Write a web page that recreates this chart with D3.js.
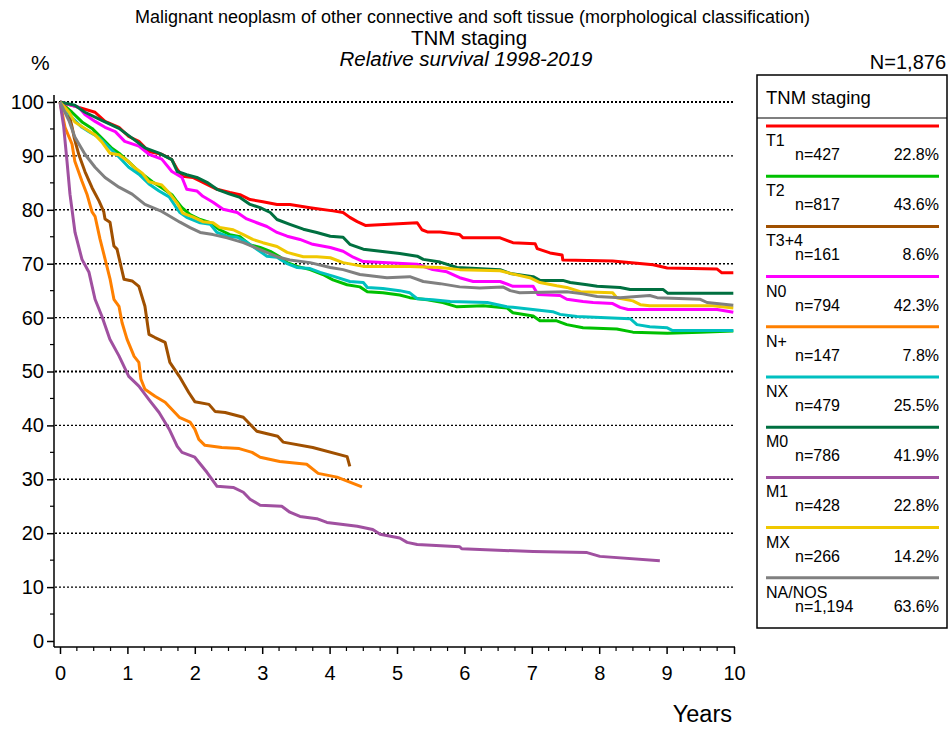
<!DOCTYPE html>
<html><head><meta charset="utf-8">
<script src="https://cdn.jsdelivr.net/npm/d3@7"></script>
<style>body{margin:0;background:#fff}</style>
</head><body><svg id="c" width="949" height="729"></svg>
<script>
const categories = ["T1","T2","T3+4","N0","N+","NX","M0","M1","MX","NA/NOS"];
const counts = ["n=427","n=817","n=161","n=794","n=147","n=479","n=786","n=428","n=266","n=1,194"];
const shares = ["22.8%","43.6%","8.6%","42.3%","7.8%","25.5%","41.9%","22.8%","14.2%","63.6%"];
const colors = ["#ff0000","#00c000","#a05000","#ff00ff","#ff8000","#00c0c0","#007040","#a050a0","#f0c800","#808080"];
const xTicks = [0,1,2,3,4,5,6,7,8,9,10];
const yTicks = [0,10,20,30,40,50,60,70,80,90,100];

const T1 = [[0,100],[0.28,99.0],[0.52,98.1],[0.668,96.4],[0.875,95.3],[1.02,93.6],[1.17,92.7],[1.32,90.8],[1.51,90.3],[1.66,89.3],[1.74,87.5],[1.82,86.2],[1.97,86.0],[2.12,85.1],[2.33,83.8],[2.52,83.2],[2.67,82.8],[2.82,81.9],[3.01,81.5],[3.22,81.0],[3.41,81.0],[3.71,80.4],[4.05,79.8],[4.20,79.5],[4.30,78.6],[4.41,77.8],[4.53,77.1],[5.30,77.6],[5.37,76.3],[5.45,75.9],[5.64,75.9],[5.93,75.4],[5.98,74.8],[6.53,74.8],[6.72,73.9],[7.05,73.7],[7.08,72.8],[7.27,72.0],[7.45,71.6],[7.46,70.7],[8.20,70.5],[8.80,69.8],[9.01,69.2],[9.75,69.0],[9.82,68.3],[9.99,68.3]];
const T2 = [[0,100],[0.178,98.1],[0.326,96.3],[0.475,95.1],[0.62,93.3],[0.77,91.4],[0.875,90.5],[1.02,88.9],[1.17,87.1],[1.37,85.2],[1.51,84.1],[1.66,82.8],[1.72,81.8],[1.81,80.4],[1.93,79.1],[2.08,78.2],[2.23,77.6],[2.37,76.3],[2.52,75.4],[2.67,75.0],[2.82,73.5],[2.97,73.0],[3.12,72.3],[3.26,71.3],[3.37,70.2],[3.52,69.5],[3.71,68.9],[3.90,68.0],[4.05,67.0],[4.26,66.1],[4.45,65.7],[4.56,64.8],[4.79,64.6],[5.04,64.2],[5.19,63.7],[5.45,63.3],[5.68,62.8],[5.89,62.0],[6.28,62.2],[6.63,61.8],[6.72,60.9],[7.02,60.3],[7.12,59.4],[7.37,59.4],[7.52,58.7],[7.76,58.1],[8.26,57.9],[8.50,57.3],[9.01,57.1],[9.50,57.3],[9.99,57.5]];
const T34 = [[0,100],[0.06,99.5],[0.134,97.7],[0.18,95.3],[0.21,93.4],[0.28,90.2],[0.37,87.1],[0.475,84.1],[0.58,81.6],[0.65,79.6],[0.668,78.3],[0.742,77.7],[0.80,73.3],[0.846,72.7],[0.95,67.1],[1.07,66.8],[1.17,65.8],[1.26,62.1],[1.32,56.9],[1.41,56.3],[1.56,55.4],[1.63,51.7],[1.77,49.1],[1.91,46.1],[2.0,44.4],[2.21,43.9],[2.30,42.6],[2.45,42.4],[2.72,41.5],[2.92,38.9],[3.23,38.0],[3.31,36.9],[3.75,35.9],[4.26,34.2],[4.30,32.4]];
const N0 = [[0,100],[0.28,99.0],[0.37,97.7],[0.52,96.4],[0.668,95.3],[0.82,94.5],[0.96,92.7],[1.17,91.8],[1.32,90.3],[1.51,89.4],[1.66,87.1],[1.81,86.0],[1.88,83.8],[2.03,83.5],[2.12,82.5],[2.27,81.4],[2.42,80.1],[2.63,79.5],[2.77,78.3],[2.92,77.6],[3.07,76.9],[3.22,75.8],[3.37,75.1],[3.56,74.5],[3.75,73.6],[4.01,73.0],[4.20,72.3],[4.35,71.2],[4.50,70.4],[4.79,70.2],[5.30,69.9],[5.53,68.9],[5.74,68.5],[5.93,67.4],[6.13,66.7],[6.53,66.7],[6.72,65.8],[7.02,65.8],[7.09,64.3],[7.42,64.1],[7.52,63.4],[7.76,63.0],[7.91,62.8],[8.20,62.6],[8.31,61.9],[8.43,61.5],[9.75,61.5],[9.99,61.0]];
const Nplus = [[0,100],[0.074,95.3],[0.178,92.2],[0.22,89.0],[0.326,85.3],[0.40,82.9],[0.475,79.6],[0.52,78.8],[0.593,74.6],[0.668,70.9],[0.742,67.2],[0.80,63.4],[0.875,62.1],[0.92,59.1],[0.994,56.0],[1.10,52.8],[1.17,51.7],[1.20,48.6],[1.26,46.7],[1.41,45.4],[1.56,44.3],[1.77,41.5],[1.93,40.6],[2.0,39.3],[2.06,37.4],[2.15,36.3],[2.40,35.9],[2.66,35.7],[2.85,35.0],[2.97,34.1],[3.26,33.3],[3.66,32.8],[3.83,31.1],[4.11,30.4],[4.48,28.6]];
const NX = [[0,100],[0.178,97.1],[0.326,95.3],[0.43,94.5],[0.58,93.4],[0.727,91.6],[0.875,89.8],[1.02,87.9],[1.17,86.6],[1.32,84.8],[1.47,83.5],[1.62,82.4],[1.71,80.7],[1.78,79.5],[1.88,78.6],[2.08,77.6],[2.23,77.3],[2.33,75.8],[2.48,75.1],[2.63,74.9],[2.77,74.0],[2.92,72.7],[3.07,71.4],[3.22,71.2],[3.37,70.0],[3.52,69.3],[3.71,69.1],[3.86,68.4],[4.05,67.7],[4.30,66.7],[4.50,66.5],[4.56,65.6],[4.79,65.4],[5.04,65.0],[5.19,64.6],[5.30,63.5],[5.53,63.3],[5.79,63.0],[6.34,62.8],[6.63,62.0],[6.72,61.9],[7.31,61.1],[7.42,60.6],[7.67,60.2],[8.46,59.8],[8.56,58.7],[8.75,58.3],[9.01,58.1],[9.09,57.6],[9.99,57.6]];
const M0 = [[0,100],[0.22,99.4],[0.37,98.1],[0.62,96.6],[0.875,95.1],[1.07,93.3],[1.26,91.5],[1.47,90.5],[1.66,89.3],[1.74,87.1],[1.88,86.5],[2.03,86.0],[2.18,85.1],[2.33,83.8],[2.52,82.9],[2.67,82.3],[2.82,81.0],[2.97,80.4],[3.12,79.5],[3.22,78.2],[3.41,77.3],[3.61,76.4],[3.81,75.8],[4.01,75.1],[4.20,74.9],[4.30,73.6],[4.50,72.7],[5.04,71.9],[5.30,71.4],[5.39,70.8],[5.64,70.3],[5.89,69.3],[6.53,68.9],[6.68,68.2],[7.02,67.6],[7.12,66.9],[7.46,66.9],[7.57,66.5],[7.82,66.1],[7.97,65.8],[8.31,65.6],[8.46,65.2],[8.95,65.2],[9.02,64.5],[9.99,64.5]];
const M1 = [[0,100],[0.055,95.4],[0.104,89.0],[0.148,82.9],[0.223,75.8],[0.326,70.8],[0.43,68.4],[0.52,63.4],[0.62,60.3],[0.74,56.0],[0.875,52.9],[1.02,49.1],[1.17,47.3],[1.32,44.8],[1.47,42.4],[1.62,39.3],[1.74,36.1],[1.81,35.0],[2.0,34.1],[2.18,31.3],[2.33,28.7],[2.57,28.5],[2.72,27.6],[2.82,26.3],[2.97,25.2],[3.29,25.0],[3.41,23.9],[3.56,23.1],[3.81,22.7],[3.96,22.0],[4.41,21.3],[4.64,20.7],[4.75,19.8],[5.04,19.1],[5.15,18.3],[5.30,17.9],[5.93,17.5],[5.96,17.1],[7.02,16.6],[7.82,16.4],[8.01,15.7],[8.90,14.9]];
const MX = [[0,100],[0.134,98.1],[0.22,96.3],[0.37,95.1],[0.52,93.9],[0.62,92.6],[0.74,90.5],[0.875,90.2],[1.02,88.9],[1.11,87.8],[1.22,86.8],[1.32,85.2],[1.51,84.6],[1.63,83.0],[1.74,81.2],[1.82,79.4],[1.97,78.7],[2.12,77.8],[2.27,77.6],[2.37,76.7],[2.57,76.3],[2.72,75.4],[2.86,74.5],[3.01,73.9],[3.22,73.2],[3.37,72.1],[3.61,71.3],[3.81,71.3],[4.01,71.1],[4.20,70.2],[4.50,69.5],[5.19,69.5],[5.64,69.3],[5.93,68.9],[6.53,68.7],[6.68,68.2],[6.97,67.4],[7.12,66.5],[7.37,65.9],[7.52,65.6],[7.72,64.8],[8.20,64.6],[8.26,63.7],[8.50,63.1],[8.61,62.4],[8.75,62.2],[9.69,62.2],[9.99,61.8]];
const NANOS = [[0,100],[0.134,96.5],[0.22,93.5],[0.37,90.3],[0.52,87.9],[0.668,86.0],[0.875,84.2],[1.07,82.9],[1.26,81.0],[1.51,79.7],[1.63,78.8],[1.78,77.7],[1.93,76.7],[2.08,75.8],[2.27,75.4],[2.48,74.8],[2.72,73.9],[2.97,72.6],[3.22,71.3],[3.41,70.7],[3.71,70.2],[4.01,69.3],[4.20,68.9],[4.45,68.0],[4.85,67.4],[5.19,67.6],[5.39,66.7],[5.64,66.3],[5.93,65.7],[6.23,65.5],[6.57,65.7],[6.68,65.0],[6.82,64.6],[7.52,64.8],[7.76,64.4],[7.97,63.9],[8.31,63.7],[8.75,64.1],[8.86,63.7],[9.50,63.4],[9.60,62.8],[9.99,62.3]];
const seriesValues = [T1,T2,T34,N0,Nplus,NX,M0,M1,MX,NANOS];

const svg = d3.select("#c");
const x = d3.scaleLinear().domain([0,10]).range([60,734]);
const y = d3.scaleLinear().domain([0,100]).range([641,102]);
const font = "'Liberation Sans',Arial,sans-serif";

// titles
svg.append("text").attr("x",472.5).attr("y",23).attr("text-anchor","middle").attr("font-family",font).attr("font-size",17.5)
  .attr("textLength",675).attr("lengthAdjust","spacingAndGlyphs")
  .text("Malignant neoplasm of other connective and soft tissue (morphological classification)");
svg.append("text").attr("x",469).attr("y",45).attr("text-anchor","middle").attr("font-family",font).attr("font-size",20.5).text("TNM staging");
svg.append("text").attr("x",466).attr("y",66).attr("text-anchor","middle").attr("font-family",font).attr("font-size",20.5).attr("font-style","italic").text("Relative survival 1998-2019");
svg.append("text").attr("x",31).attr("y",70).attr("font-family",font).attr("font-size",21).text("%");
svg.append("text").attr("x",946).attr("y",69).attr("text-anchor","end").attr("font-family",font).attr("font-size",20).text("N=1,876");

// gridlines
svg.append("g").selectAll("line").data(yTicks.filter(d=>d>0)).join("line")
  .attr("x1",55).attr("x2",734).attr("y1",d=>y(d)).attr("y2",d=>y(d))
  .attr("stroke","#000").attr("stroke-width",d=>(d===50||d===100)?2.2:1.4).attr("stroke-dasharray","2,2");

// y axis
const yAxis = d3.axisLeft(y).tickValues(yTicks).tickSize(7).tickPadding(3).tickFormat(d3.format("d"));
const gy = svg.append("g").attr("transform","translate(54,0)").call(yAxis);
gy.select(".domain").attr("d","M0,95V647").attr("stroke-width",1.5);
gy.selectAll(".tick line").attr("stroke-width",1.5);
gy.selectAll("text").attr("font-family",font).attr("font-size",20).attr("fill","#000");
const yMinor = d3.range(5,100,10);
svg.append("g").selectAll("line").data(yMinor).join("line")
  .attr("x1",50).attr("x2",54).attr("y1",d=>y(d)).attr("y2",d=>y(d)).attr("stroke","#000").attr("stroke-width",1.2);

// x axis
const xAxis = d3.axisBottom(x).tickValues(xTicks).tickSize(7).tickPadding(12).tickFormat(d3.format("d"));
const gx = svg.append("g").attr("transform","translate(0,647)").call(xAxis);
gx.select(".domain").attr("d","M54,0H735").attr("stroke-width",1.5);
gx.selectAll(".tick line").attr("stroke-width",1.5);
gx.selectAll("text").attr("font-family",font).attr("font-size",20).attr("fill","#000");
const xMinor = d3.range(0,10.01,0.25).filter(d=>Math.abs(d-Math.round(d))>0.01);
svg.append("g").selectAll("line").data(xMinor).join("line")
  .attr("x1",d=>x(d)).attr("x2",d=>x(d)).attr("y1",647).attr("y2",651).attr("stroke","#000").attr("stroke-width",1.2);
svg.append("text").attr("x",732).attr("y",722).attr("text-anchor","end").attr("font-family",font).attr("font-size",23.5).text("Years");

// curves
const line = d3.line().x(d=>x(d[0])).y(d=>y(d[1]));
svg.append("g").selectAll("path").data(seriesValues).join("path")
  .attr("d",line).attr("fill","none").attr("stroke",(d,i)=>colors[i]).attr("stroke-width",3).attr("stroke-linejoin","round");

// legend
const lg = svg.append("g");
lg.append("rect").attr("x",757).attr("y",75).attr("width",190).attr("height",553).attr("fill","#fff").attr("stroke","#000").attr("stroke-width",1.5);
lg.append("line").attr("x1",757).attr("x2",947).attr("y1",118).attr("y2",118).attr("stroke","#000").attr("stroke-width",1.2);
lg.append("text").attr("x",766).attr("y",104).attr("font-family",font).attr("font-size",18.5).text("TNM staging");
const items = lg.selectAll("g.item").data(categories).join("g").attr("class","item")
  .attr("transform",(d,i)=>`translate(0,${126+i*50.2})`);
items.append("line").attr("x1",766).attr("x2",939).attr("y1",0).attr("y2",0).attr("stroke",(d,i)=>colors[i]).attr("stroke-width",3);
items.append("text").attr("x",766).attr("y",20).attr("font-family",font).attr("font-size",16).text(d=>d);
items.append("text").attr("x",795).attr("y",34).attr("font-family",font).attr("font-size",16).text((d,i)=>counts[i]);
items.append("text").attr("x",939).attr("y",34).attr("text-anchor","end").attr("font-family",font).attr("font-size",16).text((d,i)=>shares[i]);
</script></body></html>
